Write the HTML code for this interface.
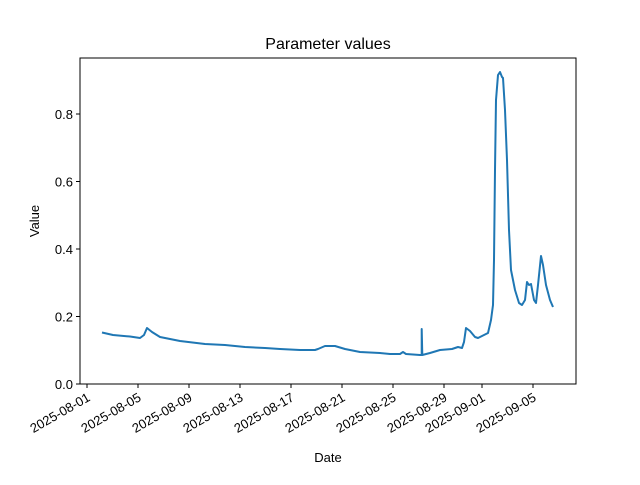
<!DOCTYPE html>
<html><head><style>body{margin:0;background:#fff}svg text{font-family:"Liberation Sans","DejaVu Sans",sans-serif;font-size:13px;fill:#000}</style></head><body>
<svg width="640" height="480" xmlns="http://www.w3.org/2000/svg">
<rect width="640" height="480" fill="#fff"/>
<text x="328" y="49" text-anchor="middle" font-size="16" style="font-size:16px">Parameter values</text>
<polyline fill="none" stroke="#1f77b4" stroke-width="2" stroke-linejoin="round" points="102,332.5 113,335 130,336.5 140,338 144,335 147,328 152,332 160,337 180,341 205,344 225,345 245,347 265,348 280,349 300,350 315,350 318,349 325,346 335,346 345,349 360,352 380,353 390,354 400,354 403,352 406,354 420,355 421.7,355 421.7,329 422.3,355 430,353 440,350 452,349 458,347 462,348 464,342 466,328 470,331 475,337 478,338 484,335 488,333 491,320 493,305 494,260 495,170 496,100 498,75 500,72 502,77 503,78 505,110 507,160 509,230 511,270 515,290 519,303 522,305 525,300 527,282 529,285 531,284 534,300 536,303 538,285 541,256 543,265 546,285 550,300 553,307"/>
<rect x="80" y="58" width="496" height="326" fill="none" stroke="#000" stroke-width="1"/>
<g stroke="#000">
<line x1="80" y1="384" x2="76" y2="384"/><line x1="80" y1="316.5" x2="76" y2="316.5"/><line x1="80" y1="249" x2="76" y2="249"/><line x1="80" y1="181.5" x2="76" y2="181.5"/><line x1="80" y1="114" x2="76" y2="114"/>
<line x1="87" y1="384" x2="87" y2="388"/><line x1="138" y1="384" x2="138" y2="388"/><line x1="189" y1="384" x2="189" y2="388"/><line x1="240" y1="384" x2="240" y2="388"/><line x1="291" y1="384" x2="291" y2="388"/><line x1="342" y1="384" x2="342" y2="388"/><line x1="393" y1="384" x2="393" y2="388"/><line x1="444" y1="384" x2="444" y2="388"/><line x1="482" y1="384" x2="482" y2="388"/><line x1="533" y1="384" x2="533" y2="388"/>
</g>
<g text-anchor="end">
<text x="73" y="389">0.0</text><text x="73" y="321.5">0.2</text><text x="73" y="254">0.4</text><text x="73" y="186.5">0.6</text><text x="73" y="119">0.8</text>
</g>
<g text-anchor="end">
<text transform="translate(91,400) rotate(-30)">2025-08-01</text>
<text transform="translate(142,400) rotate(-30)">2025-08-05</text>
<text transform="translate(193,400) rotate(-30)">2025-08-09</text>
<text transform="translate(244,400) rotate(-30)">2025-08-13</text>
<text transform="translate(295,400) rotate(-30)">2025-08-17</text>
<text transform="translate(346,400) rotate(-30)">2025-08-21</text>
<text transform="translate(397,400) rotate(-30)">2025-08-25</text>
<text transform="translate(448,400) rotate(-30)">2025-08-29</text>
<text transform="translate(486,400) rotate(-30)">2025-09-01</text>
<text transform="translate(537,400) rotate(-30)">2025-09-05</text>
</g>
<text x="328" y="462" text-anchor="middle">Date</text>
<text transform="translate(39,221) rotate(-90)" text-anchor="middle">Value</text>
</svg>
</body></html>
